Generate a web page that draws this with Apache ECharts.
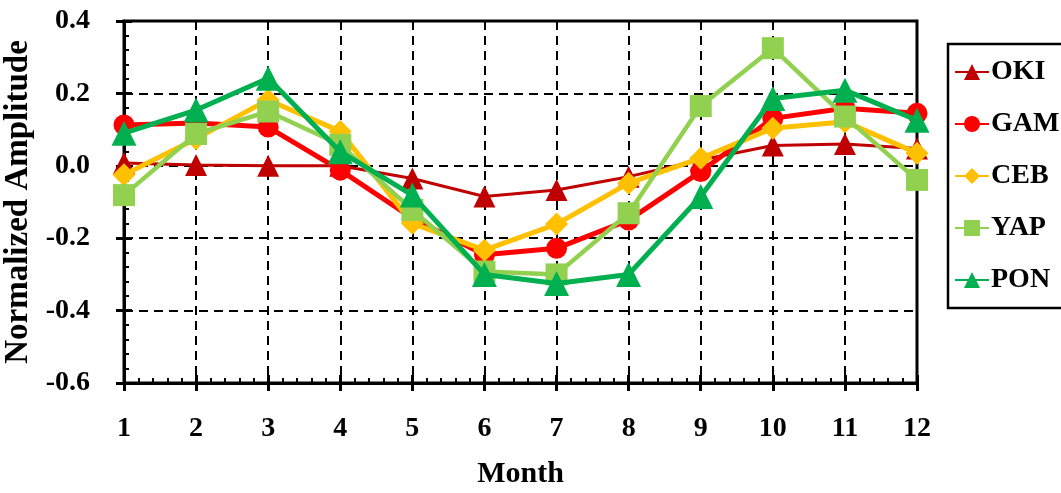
<!DOCTYPE html>
<html>
<head>
<meta charset="utf-8">
<script src="https://cdn.jsdelivr.net/npm/echarts@6/dist/echarts.min.js"></script>
<style>html,body{margin:0;padding:0;background:#fff;}#c{width:1061px;height:493px;}</style>
</head>
<body>
<div id="c"></div>
<script>
const months = [1,2,3,4,5,6,7,8,9,10,11,12];
const OKI = [0.008,0.002,0.0,0.0,-0.035,-0.085,-0.067,-0.03,0.016,0.056,0.060,0.048];
const GAM = [0.113,0.118,0.107,-0.012,-0.145,-0.246,-0.228,-0.15,-0.016,0.131,0.159,0.145];
const CEB = [-0.025,0.075,0.182,0.095,-0.159,-0.233,-0.161,-0.048,0.021,0.104,0.122,0.035];
const YAP = [-0.081,0.088,0.150,0.058,-0.122,-0.292,-0.300,-0.131,0.165,0.325,0.136,-0.039];
const PON = [0.090,0.154,0.242,0.039,-0.081,-0.300,-0.325,-0.300,-0.085,0.186,0.209,0.126];
const yTicks = [-0.6,-0.4,-0.2,0.0,0.2,0.4];
const seriesNames = ['OKI','GAM','CEB','YAP','PON'];
const seriesData = [OKI, GAM, CEB, YAP, PON];

const colors = ['#C00000','#FF0000','#FFC000','#92D050','#00B050'];
const symbols = ['triangle','circle','diamond','rect','triangle'];
const symbolSizes = [22,21,23,22,25];
const widths = [3,5,5,4.5,5];
const font = '"Liberation Serif","Times New Roman",serif';

const chart = echarts.init(document.getElementById('c'), null, {renderer:'canvas'});
const series = seriesNames.map((n,i)=>({
  name:n, type:'line', xAxisIndex:0, yAxisIndex:0,
  data: months.map((m,j)=>[m, seriesData[i][j]]),
  symbol:symbols[i], symbolSize:symbolSizes[i],
  itemStyle:{color:colors[i]},
  lineStyle:{color:colors[i], width:widths[i]},
  emphasis:{disabled:true}, animation:false, z:2+i
}));
chart.setOption({
  animation:false,
  grid:{left:124,right:144,top:21,bottom:110,containLabel:false,outerBoundsMode:'none',
    show:true,borderColor:'#000',borderWidth:3,backgroundColor:'transparent'},
  legend:{
    orient:'vertical', left:948, top:44,
    padding:[14,6,14,6], itemGap:24, itemWidth:34, itemHeight:20,
    borderColor:'#000', borderWidth:2.5,
    textStyle:{fontFamily:font, fontWeight:'bold', fontSize:28, color:'#000', padding:[0,0,0,-3]},
    data:seriesNames
  },
  xAxis:[{
    type:'value', min:1, max:12, interval:1,
    name:'Month', nameLocation:'middle', nameGap:76,
    nameTextStyle:{fontFamily:font, fontWeight:'bold', fontSize:30, color:'#000'},
    axisLine:{onZero:false, lineStyle:{color:'#000', width:3}},
    axisTick:{inside:true, length:8, lineStyle:{color:'#000', width:3}},
    minorTick:{show:true, splitNumber:5, length:5, lineStyle:{color:'#000', width:2}},
    axisLabel:{margin:32, fontFamily:font, fontWeight:'bold', fontSize:28, color:'#000'},
    splitLine:{show:true, lineStyle:{color:'#000', width:2, type:[9,6]}}
  },{
    type:'value', min:1, max:12, interval:1, position:'bottom',
    axisLine:{show:false, onZero:false},
    axisTick:{inside:false, length:8, lineStyle:{color:'#000', width:3}},
    axisLabel:{show:false}, splitLine:{show:false}
  }],
  yAxis:[{
    type:'value', min:-0.6, max:0.4, interval:0.2,
    name:'Normalized Amplitude', nameLocation:'middle', nameGap:77, nameRotate:90,
    nameTextStyle:{fontFamily:font, fontWeight:'bold', fontSize:33, color:'#000'},
    axisLine:{show:true, lineStyle:{color:'#000', width:3}},
    axisTick:{show:true, inside:true, length:8, lineStyle:{color:'#000', width:3}},
    minorTick:{show:true, splitNumber:5, length:5, lineStyle:{color:'#000', width:2}},
    axisLabel:{margin:34, fontFamily:font, fontWeight:'bold', fontSize:28, color:'#000',
      formatter:v=>{const t=yTicks.find(x=>Math.abs(x-v)<1e-9); return (t!==undefined?t:v).toFixed(1);}},
    splitLine:{show:true, lineStyle:{color:'#000', width:2, type:[9,6]}}
  },{
    type:'value', min:-0.6, max:0.4, interval:0.2, position:'left',
    axisLine:{show:false},
    axisTick:{show:true, inside:false, length:8, lineStyle:{color:'#000', width:3}},
    axisLabel:{show:false}, splitLine:{show:false}
  }],
  series: series
});
</script>
</body>
</html>
